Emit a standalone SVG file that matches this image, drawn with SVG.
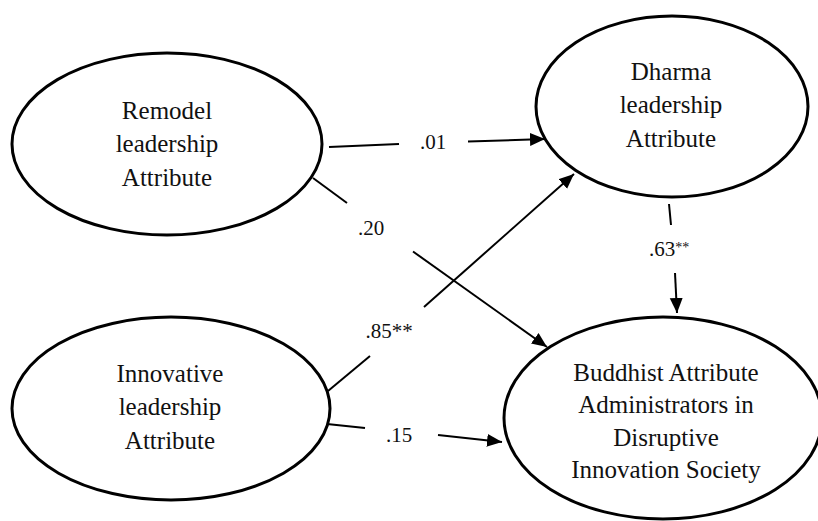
<svg xmlns="http://www.w3.org/2000/svg" width="818" height="521" viewBox="0 0 818 521" font-family="Liberation Serif, Times New Roman, serif">
<style>
.node ellipse{fill:#fff;stroke:#000;stroke-width:3}
.node text{font-size:25px;fill:#111;text-anchor:middle}
.edge line{stroke:#000;stroke-width:2}
.lbl{font-size:21px;fill:#111;text-anchor:middle}
.sm{font-size:14px}
</style>
<defs>
<marker id="ah" markerUnits="userSpaceOnUse" markerWidth="16" markerHeight="14" refX="15" refY="6.5" orient="auto">
<path d="M0,0 L15,6.5 L0,13 z" fill="#000"/>
</marker>
</defs>
<rect width="818" height="521" fill="#fff"/>
<g id="remodel" class="node">
<ellipse cx="167" cy="144" rx="155" ry="91"/>
<text x="167" y="119">Remodel</text>
<text x="167" y="152">leadership</text>
<text x="167" y="186">Attribute</text>
</g>
<g id="dharma" class="node">
<ellipse cx="672" cy="106.5" rx="136" ry="90.5"/>
<text x="671" y="80">Dharma</text>
<text x="671" y="113">leadership</text>
<text x="671" y="147">Attribute</text>
</g>
<g id="innovative" class="node">
<ellipse cx="171" cy="408.5" rx="159" ry="91.5"/>
<text x="170" y="382">Innovative</text>
<text x="170" y="415">leadership</text>
<text x="170" y="449">Attribute</text>
</g>
<g id="buddhist" class="node">
<ellipse cx="663" cy="418" rx="159" ry="101"/>
<text x="666" y="381">Buddhist Attribute</text>
<text x="666" y="413">Administrators in</text>
<text x="666" y="446">Disruptive</text>
<text x="666" y="478">Innovation Society</text>
</g>
<g id="connectors" class="edge">
<line x1="329" y1="147" x2="399" y2="144"/>
<line x1="468" y1="141.5" x2="545" y2="139" marker-end="url(#ah)"/>
<text class="lbl" x="433" y="149">.01</text>
<line x1="313" y1="178" x2="347" y2="203"/>
<line x1="413" y1="251.5" x2="547" y2="347" marker-end="url(#ah)"/>
<text class="lbl" x="371" y="235">.20</text>
<line x1="328" y1="391" x2="370" y2="356"/>
<line x1="424" y1="307" x2="574" y2="174" marker-end="url(#ah)"/>
<text class="lbl" x="389" y="338">.85**</text>
<line x1="669" y1="204" x2="671" y2="225"/>
<line x1="675" y1="273" x2="677" y2="313" marker-end="url(#ah)"/>
<text class="lbl" x="669" y="256">.63<tspan class="sm" dy="-4">**</tspan></text>
<line x1="327" y1="424" x2="365" y2="428"/>
<line x1="438" y1="435" x2="502" y2="442" marker-end="url(#ah)"/>
<text class="lbl" x="399" y="442">.15</text>
</g>
</svg>
